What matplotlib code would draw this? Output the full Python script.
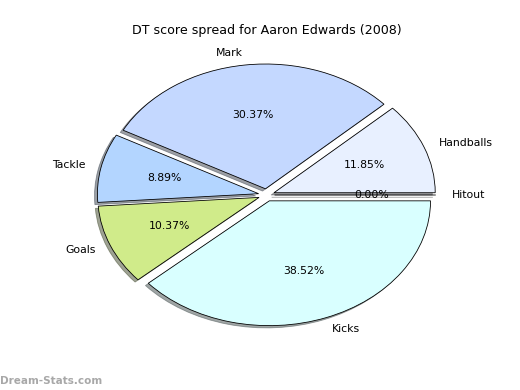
import matplotlib
matplotlib.use("Agg")
import matplotlib.pyplot as plt

labels = ["Handballs", "Mark", "Tackle", "Goals", "Kicks", "Hitout"]
values = [32, 82, 24, 28, 104, 0]
colors = ["#e8f0ff", "#c4d8ff", "#b3d5ff", "#d0eb8a", "#d9ffff", "#e0e0e0"]
explode = [0.05, 0.05, 0.05, 0.05, 0.05, 0.05]
title = "DT score spread for Aaron Edwards (2008)"

fig = plt.figure(figsize=(8, 6), dpi=65)
ax = fig.add_axes([0.125, 0.1, 0.775, 0.8])
wedges, texts, autotexts = ax.pie(values, labels=labels, colors=colors, explode=explode,
                                  autopct="%1.2f%%", shadow=True, startangle=0,
                                  wedgeprops=dict(edgecolor="black", linewidth=0.9),
                                  textprops=dict(fontsize=12), frame=False)
ax.set_aspect("auto")
ax.set_xlim(-1.25, 1.25)
ax.set_ylim(-1.25, 1.25)
ax.axis("off")
ax.set_title(title, fontsize=14)
fig.text(0.0, 0.015, "Dream-Stats.com", color="#999999", fontsize=11.5, fontweight="bold", alpha=0.85)
fig.savefig("out.png", dpi=65, facecolor="white")
